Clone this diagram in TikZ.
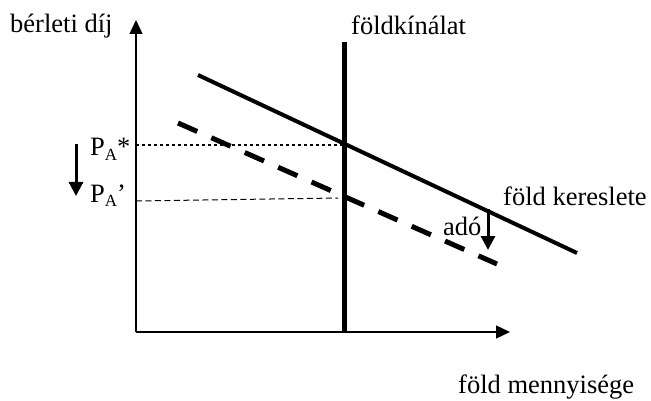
\documentclass[tikz,border=0pt]{standalone}
\usepackage{fontspec}
\setmainfont{Liberation Serif}
\usetikzlibrary{arrows.meta}
\newcommand{\subA}{{\fontsize{17}{17}\selectfont\raisebox{-5pt}{A}}}
\tikzset{
  lbl/.style={anchor=base west, inner sep=0pt, font=\fontsize{26.5}{30}\selectfont},
  axisline/.style={line width=1.3pt, -{Triangle[length=14pt,width=13pt]}},
  supplyline/.style={line width=5pt},
  demandline/.style={line width=4pt},
  taxdemand/.style={line width=5pt, dash pattern=on 21pt off 15.5pt},
  dotline/.style={line width=2.5pt, dash pattern=on 3pt off 3pt},
  thindash/.style={line width=1pt, dash pattern=on 6pt off 3.5pt},
  shiftarrow/.style={line width=3pt, -{Triangle[length=14pt,width=14pt]}}
}
\begin{document}
\begin{tikzpicture}[x=1pt,y=-1pt]
\useasboundingbox (0,0) rectangle (651,401);
% coordinates
\coordinate (O) at (136,332);
\coordinate (ytop) at (136,20);
\coordinate (xend) at (510,332);
\coordinate (s1) at (344.5,42);
\coordinate (s2) at (344.5,332);
\coordinate (d1) at (198,75);
\coordinate (d2) at (577,253);
\coordinate (t1) at (178,123);
\coordinate (t2) at (497,264);
\coordinate (pa) at (136,145);
\coordinate (pas) at (344.5,145);
\coordinate (pb) at (136,201);
\coordinate (pbs) at (338,198);
\coordinate (a1) at (76,144);
\coordinate (a2) at (76,196);
\coordinate (b1) at (488,209);
\coordinate (b2) at (488,250);
% axes
\draw[axisline] (O) -- (ytop);
\draw[axisline] (O) -- (xend);
% curves
\draw[supplyline] (s1) -- (s2);
\draw[demandline] (d1) -- (d2);
\draw[taxdemand] (t1) -- (t2);
\draw[dotline] (pa) -- (pas);
\draw[thindash] (pb) -- (pbs);
\draw[shiftarrow] (a1) -- (a2);
\draw[shiftarrow] (b1) -- (b2);
% labels
\node[lbl] (ylab) at (10,33) {bérleti díj};
\node[lbl] (slab) at (351,35) {földkínálat};
\node[lbl] (xlab) at (458,393) {föld mennyisége};
\node[lbl] (dlab) at (503,206) {föld kereslete};
\node[lbl] (tax) at (443,236) {adó};
\node[lbl] (pstar) at (90,156) {P\subA*};
\node[lbl] (pprime) at (90,202) {P\subA’};
\end{tikzpicture}
\end{document}
